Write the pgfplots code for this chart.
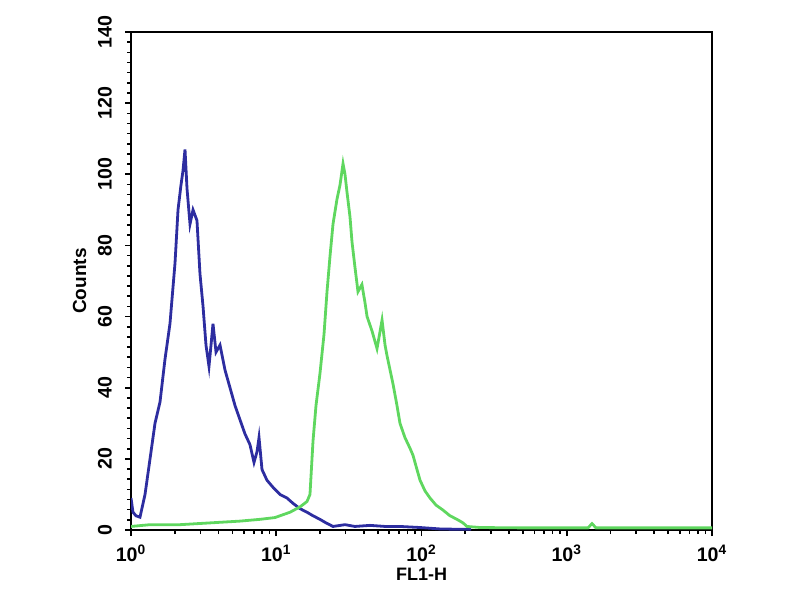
\documentclass[border=0pt]{standalone}
\usepackage{pgfplots}
\pgfplotsset{compat=1.18}
\usepackage{fontspec}
\setmainfont{Liberation Sans}
\usetikzlibrary{calc}
\definecolor{cblue}{RGB}{45,45,160}
\definecolor{cgreen}{RGB}{95,215,95}
\begin{document}
\begin{tikzpicture}
\begin{axis}[
  xmode=log,
  scale only axis,
  width=290.5pt, height=249pt,
  xmin=1, xmax=10000, ymin=0, ymax=140,
  xtick={1,10,100,1000,10000},
  xticklabels={10\textsuperscript{0},10\textsuperscript{1},10\textsuperscript{2},10\textsuperscript{3},10\textsuperscript{4}},
  ytick={0,20,40,60,80,100,120,140},
  minor y tick num=6,
  tick align=outside,
  xtick pos=bottom, ytick pos=left,
  major tick length=3pt, minor tick length=2pt,
  every tick/.style={black, line width=0.8pt},
  axis line style={line width=1pt},
  font=\fontsize{9.8}{11}\selectfont\bfseries,
  /pgf/number format/assume math mode=true,
  yticklabel style={rotate=90, anchor=south, yshift=3pt},
  xticklabel style={yshift=-1pt},
  xlabel={FL1-H}, ylabel={Counts},
  xlabel style={font=\fontsize{9}{10}\selectfont\bfseries, yshift=4pt},
  ylabel style={font=\fontsize{9.5}{10}\selectfont\bfseries, yshift=-1pt},
  clip=true,
]
\addplot[cblue, line width=1.4pt] coordinates {
(1.000,9) (1.032,5) (1.082,4) (1.153,3.6) (1.249,10) (1.352,20) (1.463,30) (1.584,36)
(1.714,48) (1.855,58) (2.009,75) (2.107,90) (2.209,97) (2.28,101) (2.354,107) (2.43,96)
(2.548,86) (2.673,90) (2.846,87) (2.985,72) (3.131,63) (3.283,52) (3.443,46) (3.556,52)
(3.669,58) (3.849,50) (4.101,52) (4.436,45) (4.804,40) (5.20,35) (5.628,31) (6.095,27)
(6.594,24) (7.028,19) (7.37,22) (7.61,26) (7.98,17) (8.63,14) (9.50,12) (10.61,10)
(11.85,9) (13.04,7.5) (14.57,6) (16.28,5) (17.91,4) (20.0,3) (22.0,2) (24.59,1)
(29.74,1.5) (34.8,1) (44.2,1.3) (56.1,1) (71.1,1) (97.7,0.7) (134,0.3) (184,0.2) (220,0.2)
};
\addplot[cgreen, line width=1.4pt] coordinates {
(1.0,1) (1.352,1.5) (2.175,1.5) (3.50,2) (5.628,2.5) (7.73,3) (9.80,3.5) (12.44,5)
(14.57,6.5) (16.28,8) (17.07,10) (17.91,25) (18.78,35) (20.0,44) (21.32,55) (22.36,67)
(23.45,77) (24.59,86) (26.19,93) (27.48,97) (28.82,103) (29.74,100) (30.69,95) (32.2,88)
(33.23,81) (34.8,74) (36.54,67) (38.9,69) (40.8,64) (42.2,60) (45.6,56) (49.4,51)
(53.5,59) (56.1,52) (57.9,49) (63.7,41) (67.8,35) (71.1,30) (76.9,26) (83.3,23)
(87.4,21) (93.1,17) (97.7,14) (105.7,11) (114.4,9) (125.9,7) (140.6,5.6) (157.1,4)
(175.5,3) (193.1,2) (205.6,1) (252.8,0.7) (476,0.6) (898,0.6) (1400,0.6) (1493,1.8)
(1589,0.6) (3193,0.6) (7056,0.6) (10000,0.6)
};
\coordinate (sw) at (rel axis cs:0,0);
\coordinate (ne) at (rel axis cs:1,1);
\end{axis}
\path[use as bounding box] ($(sw)+(-65.5pt,-35pt)$) rectangle ($(ne)+(44pt,16pt)$);
\end{tikzpicture}
\end{document}
